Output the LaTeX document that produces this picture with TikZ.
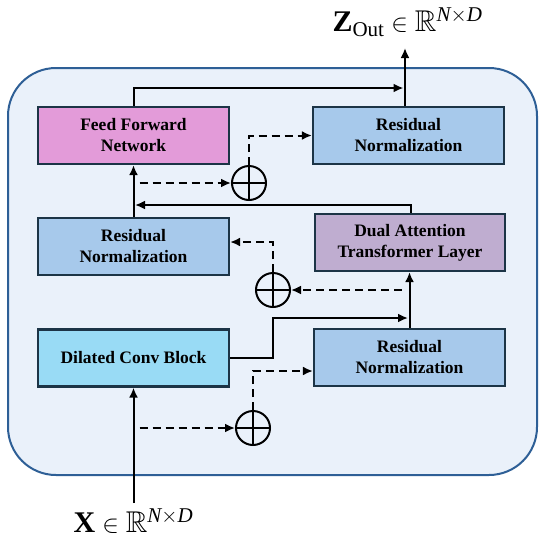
\documentclass[tikz,border=0pt]{standalone}
\usepackage{fontspec}
\usepackage{amssymb}
\setmainfont{Liberation Serif}
\usetikzlibrary{arrows.meta,calc}
\definecolor{bgfill}{RGB}{234,241,250}
\definecolor{bgdraw}{RGB}{46,95,150}
\definecolor{boxdraw}{RGB}{28,52,70}
\definecolor{pinkc}{RGB}{227,155,217}
\definecolor{bluec}{RGB}{167,201,235}
\definecolor{purplec}{RGB}{191,173,208}
\definecolor{cyanc}{RGB}{153,219,245}
\begin{document}
\begin{tikzpicture}[x=1pt,y=-1pt,
  blk/.style={draw=boxdraw,line width=2.2pt,minimum width=191pt,minimum height=57pt,
    align=center,inner sep=0pt,font=\fontsize{17.5}{21}\selectfont\bfseries},
  addc/.style={circle,draw=black,line width=2pt,minimum size=34pt,inner sep=0pt,
    path picture={\draw[line width=2pt] (path picture bounding box.north) -- (path picture bounding box.south)
      (path picture bounding box.west) -- (path picture bounding box.east);}},
  arr/.style={line width=2pt,-{Latex[length=10pt,width=9pt]}},
  darr/.style={arr,dash pattern=on 8pt off 5pt},
  lab/.style={font=\fontsize{30}{31}\selectfont,inner sep=0pt,anchor=base}]
\useasboundingbox (0,0) rectangle (539,539);
\draw[fill=bgfill,draw=bgdraw,line width=2pt,rounded corners=48pt] (8,68) rectangle (537,475);

\node[blk,fill=pinkc] (ffn) at (133.5,135.5) {Feed Forward\\Network};
\node[blk,fill=bluec] (rn1) at (408.5,135.5) {Residual\\Normalization};
\node[blk,fill=bluec] (rn2) at (133.5,246.5) {Residual\\Normalization};
\node[blk,fill=purplec,minimum width=190pt] (datl) at (410,242.5) {Dual Attention\\Transformer Layer};
\node[blk,fill=cyanc] (dcb) at (133.5,358) {Dilated Conv Block};
\node[blk,fill=bluec] (rn3) at (409.5,357.5) {Residual\\Normalization};

\node[addc] (c1) at (249,183) {};
\node[addc] (c2) at (273,290) {};
\node[addc] (c3) at (253,428) {};

\node[lab] (xl) at (133.5,532) {$\mathbf{X}\in\mathbb{R}^{\mathit{N}\times \mathit{D}}$};
\node[lab] (zl) at (407.5,31) {$\mathbf{Z}_{\mathrm{Out}}\in\mathbb{R}^{\mathit{N}\times \mathit{D}}$};

\coordinate (xs) at (133.5,503);
\coordinate (o) at (405,48);

% input
\draw[arr] (xs) -- (dcb.south);
\draw[darr] ($(dcb.south |- c3)+(6,0)$) -- (c3.west);
\draw[darr] (c3.north) |- ($(rn3.west)+(0,13.5)$);
% conv to DATL path
\draw[arr] (dcb.east) -- (273,358) |- ($(rn3.north |- 0,318)+(-1.5,0)$);
\draw[arr] (rn3.north) -- (rn3.north |- datl.south);
\draw[darr] ($(rn3.north |- c2)+(-8,0)$) -- (c2.east);
\draw[darr] (c2.north) |- ($(rn2.east)+(0,-4.5)$);
% DATL to rn2 -> ffn
\draw[arr] ($(datl.north)+(1,0)$) |- ($(rn2.north |- 0,205)+(1.5,0)$);
\draw[arr] (rn2.north) -- (ffn.south);
\draw[darr] ($(ffn.south |- c1)+(6,0)$) -- (c1.west);
\draw[darr] (c1.north) |- (rn1.west);
% ffn to output
\draw[arr] (ffn.north) |- ($(o |- 0,88)+(-1.5,0)$);
\draw[arr] (rn1.north -| o) -- (o);
\end{tikzpicture}
\end{document}
